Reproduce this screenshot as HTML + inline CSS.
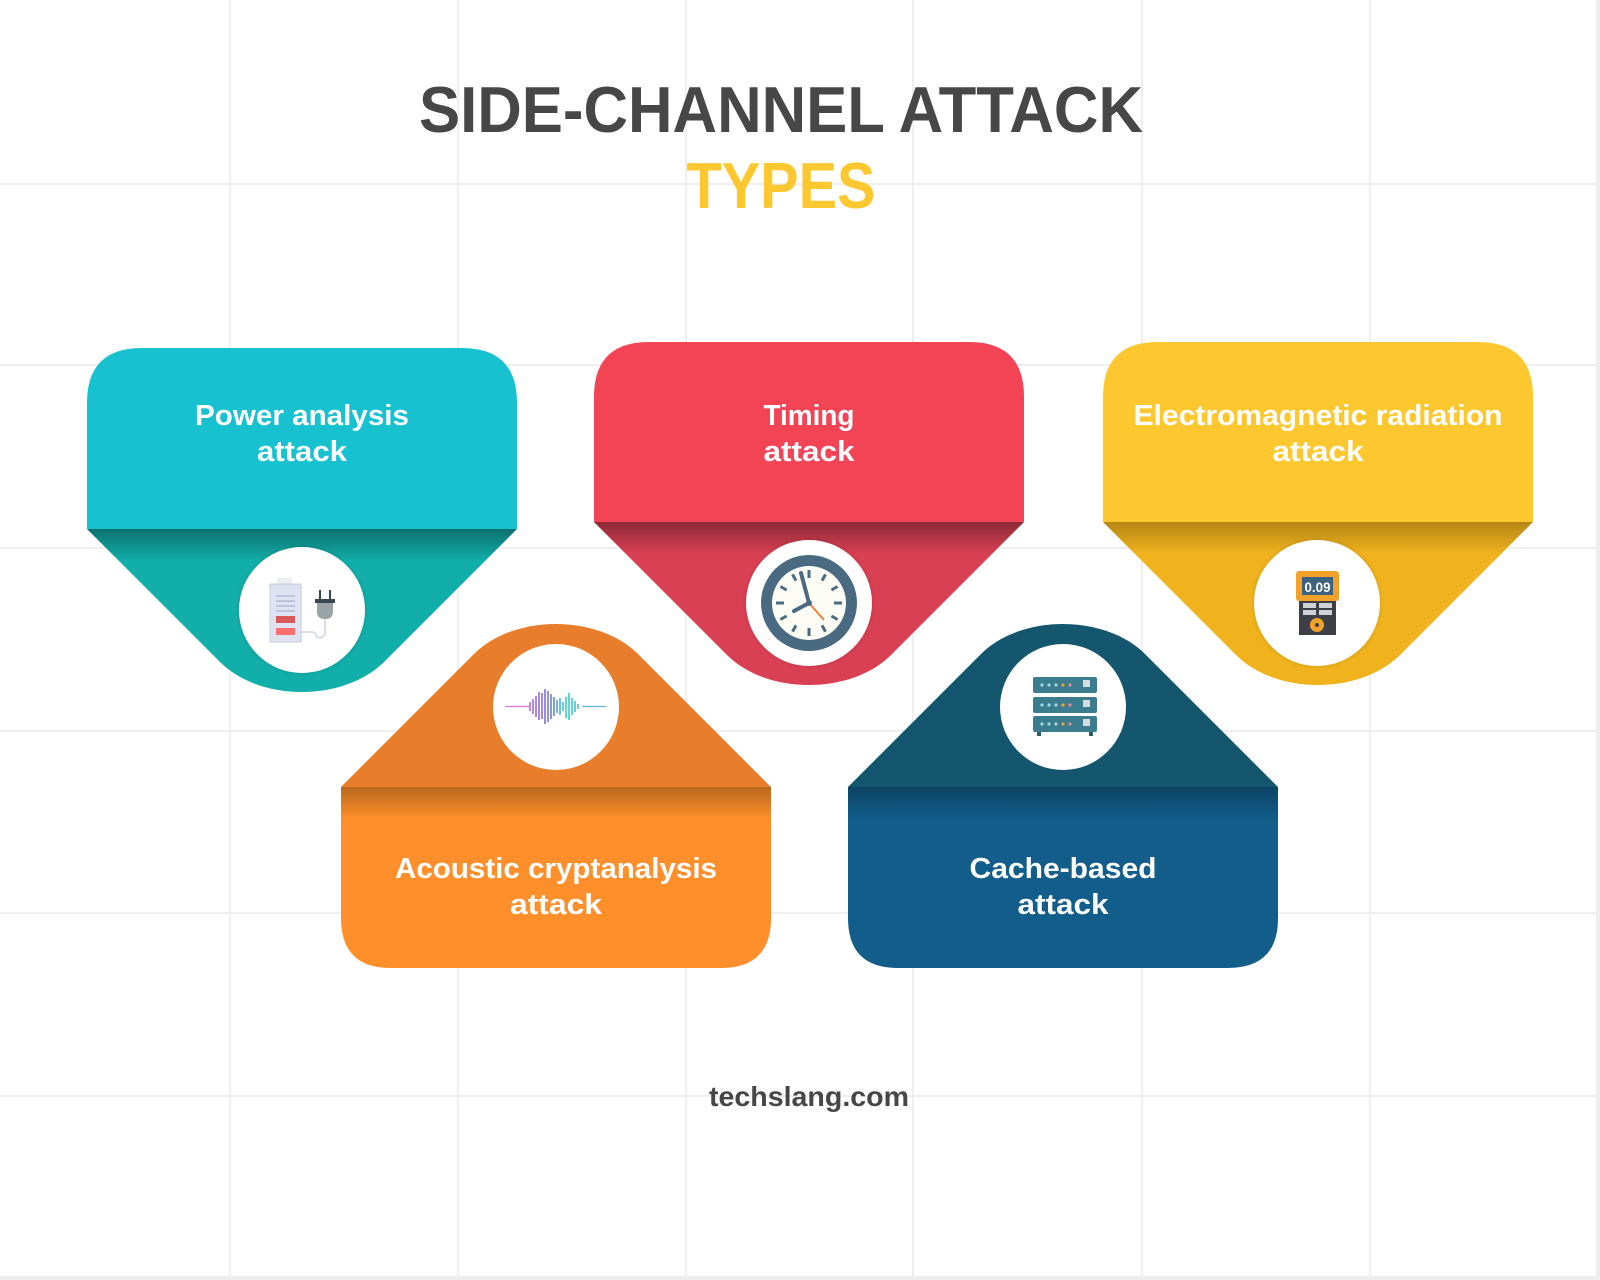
<!DOCTYPE html>
<html><head><meta charset="utf-8"><style>
html,body{margin:0;padding:0;background:#fff}
svg{display:block}
text{font-family:"Liberation Sans",sans-serif;font-weight:bold}
</style></head><body>
<svg width="1600" height="1280" viewBox="0 0 1600 1280" xmlns="http://www.w3.org/2000/svg">
<defs>
<linearGradient id="sh" x1="0" y1="0" x2="0" y2="1"><stop offset="0" stop-color="#000" stop-opacity="0.35"/><stop offset="1" stop-color="#000" stop-opacity="0"/></linearGradient>
<filter id="cs" x="-20%" y="-20%" width="140%" height="140%"><feDropShadow dx="0" dy="0" stdDeviation="2" flood-opacity="0.15"/></filter>
<clipPath id="c1"><path d="M87,529 L220,662 C260,702 344,702 384,662 L517,529 Z"/></clipPath>
<clipPath id="c2"><path d="M594,522 L727,655 C767,695 851,695 891,655 L1024,522 Z"/></clipPath>
<clipPath id="c3"><path d="M1103,522 L1236,655 C1276,695 1360,695 1400,655 L1533,522 Z"/></clipPath>
</defs>
<rect width="1600" height="1280" fill="#fff"/>
<g stroke="#efefef" stroke-width="2">
<line x1="230" y1="0" x2="230" y2="1280"/><line x1="458" y1="0" x2="458" y2="1280"/><line x1="686" y1="0" x2="686" y2="1280"/><line x1="913" y1="0" x2="913" y2="1280"/><line x1="1142" y1="0" x2="1142" y2="1280"/><line x1="1370" y1="0" x2="1370" y2="1280"/>
<line x1="0" y1="184" x2="1600" y2="184"/><line x1="0" y1="365" x2="1600" y2="365"/><line x1="0" y1="548" x2="1600" y2="548"/><line x1="0" y1="731" x2="1600" y2="731"/><line x1="0" y1="913" x2="1600" y2="913"/><line x1="0" y1="1096" x2="1600" y2="1096"/>
</g>
<rect x="1596" y="0" width="4" height="1280" fill="#eee"/><rect x="0" y="1276" width="1600" height="4" fill="#eee"/>

<text x="781" y="132" font-size="65" fill="#474747" text-anchor="middle" textLength="724" lengthAdjust="spacingAndGlyphs">SIDE-CHANNEL ATTACK</text>
<text x="781" y="208" font-size="65" fill="#fdc82f" text-anchor="middle" textLength="189" lengthAdjust="spacingAndGlyphs">TYPES</text>

<!-- Card 1 teal -->
<path d="M87,529 L220,662 C260,702 344,702 384,662 L517,529 Z" fill="#12aeaa"/>
<rect x="87" y="529" width="430" height="32" fill="url(#sh)" clip-path="url(#c1)"/>
<path d="M87,529 V403 Q87,348 142,348 H462 Q517,348 517,403 V529 Z" fill="#17c1d0"/>
<text x="302" y="425" font-size="29" fill="#fff" text-anchor="middle" textLength="214" lengthAdjust="spacingAndGlyphs">Power analysis</text>
<text x="302" y="461" font-size="29" fill="#fff" text-anchor="middle" textLength="90" lengthAdjust="spacingAndGlyphs">attack</text>
<circle cx="302" cy="610" r="63" fill="#fff" filter="url(#cs)"/>
<rect x="277" y="578" width="15" height="6" fill="#eceef2"/>
<rect x="270" y="584" width="31" height="58" fill="#dfe3f1" stroke="#c5cbe0"/>
<g stroke="#aab1cc" stroke-width="1.2"><line x1="276" y1="596" x2="295" y2="596"/><line x1="276" y1="601" x2="295" y2="601"/><line x1="276" y1="606" x2="295" y2="606"/><line x1="276" y1="611" x2="295" y2="611"/></g>
<rect x="276" y="616" width="19" height="7" fill="#d9585a"/><rect x="276" y="628" width="19" height="7" fill="#ff6f6d"/>
<path d="M301,632 H312 Q316,632 316,636 Q322,640 325,634 V618" stroke="#cfd4ea" stroke-width="1.5" fill="none"/>
<line x1="320" y1="590" x2="320" y2="600" stroke="#3c4653" stroke-width="2"/><line x1="330" y1="590" x2="330" y2="600" stroke="#3c4653" stroke-width="2"/>
<rect x="315" y="599" width="20" height="4" fill="#3c4653"/>
<path d="M317,603 H333 V612 Q333,619 325,619 Q317,619 317,612 Z" fill="#9aa3a6"/>

<!-- Card 2 red -->
<path d="M594,522 L727,655 C767,695 851,695 891,655 L1024,522 Z" fill="#d94053"/>
<rect x="594" y="522" width="430" height="32" fill="url(#sh)" clip-path="url(#c2)"/>
<path d="M594,522 V397 Q594,342 649,342 H969 Q1024,342 1024,397 V522 Z" fill="#f24455"/>
<text x="809" y="425" font-size="29" fill="#fff" text-anchor="middle" textLength="91" lengthAdjust="spacingAndGlyphs">Timing</text>
<text x="809" y="461" font-size="29" fill="#fff" text-anchor="middle" textLength="91" lengthAdjust="spacingAndGlyphs">attack</text>
<circle cx="809" cy="603" r="63" fill="#fff" filter="url(#cs)"/>
<circle cx="809" cy="603" r="48" fill="#4a6a82"/>
<circle cx="809" cy="603" r="37" fill="#fdfdf6"/>
<g stroke="#4a6a82" stroke-width="3" stroke-linecap="butt">
<line x1="809" y1="570" x2="809" y2="578"/><line x1="809" y1="628" x2="809" y2="636"/><line x1="776" y1="603" x2="784" y2="603"/><line x1="834" y1="603" x2="842" y2="603"/>
<line x1="825.5" y1="574.4" x2="822" y2="580.6"/><line x1="837.6" y1="586.5" x2="831.4" y2="590"/><line x1="837.6" y1="619.5" x2="831.4" y2="616"/><line x1="825.5" y1="631.6" x2="822" y2="625.4"/>
<line x1="792.5" y1="631.6" x2="796" y2="625.4"/><line x1="780.4" y1="619.5" x2="786.6" y2="616"/><line x1="780.4" y1="586.5" x2="786.6" y2="590"/><line x1="792.5" y1="574.4" x2="796" y2="580.6"/>
</g>
<line x1="809" y1="603" x2="801" y2="573" stroke="#4a6a82" stroke-width="4" stroke-linecap="round"/>
<line x1="809" y1="603" x2="794" y2="611" stroke="#4a6a82" stroke-width="4" stroke-linecap="round"/>
<line x1="809" y1="603" x2="824" y2="620" stroke="#f07b2f" stroke-width="1.8"/>
<circle cx="809" cy="603" r="3" fill="#4a6a82"/>

<!-- Card 3 yellow -->
<path d="M1103,522 L1236,655 C1276,695 1360,695 1400,655 L1533,522 Z" fill="#f0b21d"/>
<rect x="1103" y="522" width="430" height="32" fill="url(#sh)" opacity="0.7" clip-path="url(#c3)"/>
<path d="M1103,522 V397 Q1103,342 1158,342 H1478 Q1533,342 1533,397 V522 Z" fill="#fdc82f"/>
<text x="1318" y="425" font-size="29" fill="#fff" text-anchor="middle" textLength="369" lengthAdjust="spacingAndGlyphs">Electromagnetic radiation</text>
<text x="1318" y="461" font-size="29" fill="#fff" text-anchor="middle" textLength="91" lengthAdjust="spacingAndGlyphs">attack</text>
<circle cx="1317" cy="603" r="63" fill="#fff" filter="url(#cs)"/>
<rect x="1299" y="600" width="37" height="35" fill="#3d4147"/>
<rect x="1296" y="571" width="43" height="30" rx="3" fill="#f2a22a"/>
<rect x="1302" y="577" width="31" height="18" fill="#3d627f"/>
<text x="1317.5" y="592" font-size="14" fill="#fff" text-anchor="middle" textLength="26" lengthAdjust="spacingAndGlyphs">0.09</text>
<g fill="#cfd3d6"><rect x="1303" y="603" width="13" height="5"/><rect x="1319" y="603" width="13" height="5"/><rect x="1303" y="610" width="13" height="5"/><rect x="1319" y="610" width="13" height="5"/></g>
<circle cx="1317" cy="625" r="7" fill="#f2a22a"/><circle cx="1317" cy="625" r="2" fill="#3d4147"/>

<!-- Card 4 orange -->
<path d="M341,787 L474,654 C514,614 598,614 638,654 L771,787 Z" fill="#e87e2c"/>
<path d="M341,787 H771 V918 Q771,968 721,968 H391 Q341,968 341,918 Z" fill="#ff8f2a"/>
<rect x="341" y="787" width="430" height="32" fill="url(#sh)" opacity="0.8"/>
<text x="556" y="878" font-size="29" fill="#fff" text-anchor="middle" textLength="322" lengthAdjust="spacingAndGlyphs">Acoustic cryptanalysis</text>
<text x="556" y="914" font-size="29" fill="#fff" text-anchor="middle" textLength="92" lengthAdjust="spacingAndGlyphs">attack</text>
<circle cx="556" cy="707" r="63" fill="#fff"/>
<line x1="505" y1="706.5" x2="530" y2="706.5" stroke="#e36fd8" stroke-width="1.2"/>
<line x1="582" y1="706.5" x2="606" y2="706.5" stroke="#5cb8d6" stroke-width="1.2"/>
<g stroke-width="1.6">
<line x1="530" y1="702" x2="530" y2="711" stroke="#b56cd4"/><line x1="533" y1="699" x2="533" y2="714" stroke="#a66ad6"/><line x1="536" y1="696" x2="536" y2="717" stroke="#9b6bd8"/><line x1="539" y1="692" x2="539" y2="720" stroke="#916cd8"/><line x1="542" y1="693" x2="542" y2="719" stroke="#866fd8"/><line x1="545" y1="689" x2="545" y2="724" stroke="#7d72d6"/><line x1="548" y1="691" x2="548" y2="722" stroke="#7479d6"/><line x1="551" y1="694" x2="551" y2="719" stroke="#6a80d6"/><line x1="554" y1="697" x2="554" y2="716" stroke="#5f8ad6"/><line x1="557" y1="700" x2="557" y2="713" stroke="#55a0d4"/><line x1="560" y1="698" x2="560" y2="715" stroke="#4cb4d2"/><line x1="563" y1="702" x2="563" y2="711" stroke="#45c0d0"/><line x1="566" y1="697" x2="566" y2="718" stroke="#3fc8cc"/><line x1="569" y1="693" x2="569" y2="720" stroke="#38ccc8"/><line x1="572" y1="698" x2="572" y2="715" stroke="#38ccc8"/><line x1="575" y1="701" x2="575" y2="712" stroke="#40c4cc"/><line x1="578" y1="704" x2="578" y2="709" stroke="#4cbad0"/>
</g>

<!-- Card 5 navy -->
<path d="M848,787 L981,654 C1021,614 1105,614 1145,654 L1278,787 Z" fill="#13566e"/>
<path d="M848,787 H1278 V918 Q1278,968 1228,968 H898 Q848,968 848,918 Z" fill="#125d8a"/>
<rect x="848" y="787" width="430" height="32" fill="url(#sh)" opacity="0.8"/>
<text x="1063" y="878" font-size="29" fill="#fff" text-anchor="middle" textLength="187" lengthAdjust="spacingAndGlyphs">Cache-based</text>
<text x="1063" y="914" font-size="29" fill="#fff" text-anchor="middle" textLength="91" lengthAdjust="spacingAndGlyphs">attack</text>
<circle cx="1063" cy="707" r="63" fill="#fff"/>
<g>
<rect x="1033" y="677" width="64" height="16" rx="2" fill="#3b7c8f"/>
<rect x="1033" y="697" width="64" height="16" rx="2" fill="#3b7c8f"/>
<rect x="1033" y="716" width="64" height="16" rx="2" fill="#3b7c8f"/>
<g fill="#a6d6e2"><circle cx="1042" cy="685" r="1.6"/><circle cx="1049" cy="685" r="1.6"/><circle cx="1056" cy="685" r="1.6"/><circle cx="1042" cy="705" r="1.6"/><circle cx="1049" cy="705" r="1.6"/><circle cx="1056" cy="705" r="1.6"/><circle cx="1042" cy="724" r="1.6"/><circle cx="1049" cy="724" r="1.6"/><circle cx="1056" cy="724" r="1.6"/></g>
<g fill="#f2a22a"><circle cx="1063" cy="685" r="1.6"/><circle cx="1063" cy="705" r="1.6"/><circle cx="1063" cy="724" r="1.6"/></g>
<g fill="#e88a8a"><circle cx="1070" cy="685" r="1.6"/><circle cx="1070" cy="705" r="1.6"/><circle cx="1070" cy="724" r="1.6"/></g>
<g fill="#d6dde0"><rect x="1083" y="680" width="7" height="7"/><rect x="1083" y="700" width="7" height="7"/><rect x="1083" y="719" width="7" height="7"/></g>
<rect x="1037" y="732" width="4" height="4" fill="#2b5d6b"/><rect x="1089" y="732" width="4" height="4" fill="#2b5d6b"/>
</g>

<text x="809" y="1106" font-size="28" fill="#464646" text-anchor="middle" textLength="200" lengthAdjust="spacingAndGlyphs">techslang.com</text>
</svg>
</body></html>
